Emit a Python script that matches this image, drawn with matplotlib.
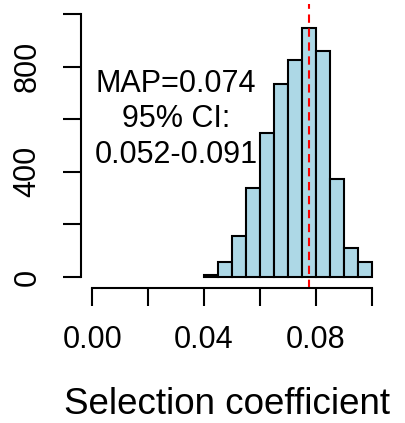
import matplotlib
matplotlib.use('Agg')
import matplotlib.pyplot as plt

# histogram of selection coefficient samples (bin edges and counts)
binEdges = [0.040, 0.045, 0.050, 0.055, 0.060, 0.065, 0.070, 0.075, 0.080, 0.085, 0.090, 0.095, 0.100]
counts = [8, 57, 156, 337, 546, 734, 824, 945, 860, 373, 110, 58]
mapLine = 0.0775
xTicks = [0.00, 0.02, 0.04, 0.06, 0.08, 0.10]
xTickLabels = ['0.00', '', '0.04', '', '0.08', '']
yTicks = [0, 200, 400, 600, 800, 1000]
yTickLabels = ['0', '', '400', '', '800', '']
annot = 'MAP=0.074\n95% CI:\n0.052-0.091'

plt.rcParams['font.family'] = ['Liberation Sans', 'DejaVu Sans']

fig = plt.figure(figsize=(4.05, 4.23), dpi=100)
ax = fig.add_axes([0.2, 0.3203, 0.7457, 0.6714])

widths = [binEdges[i+1]-binEdges[i] for i in range(len(counts))]
ax.bar(binEdges[:-1], counts, width=widths, align='edge',
       color='#ADD8E6', edgecolor='black', linewidth=1.5)
ax.axvline(mapLine, color='red', linestyle=(0, (4, 2.7)), linewidth=1.5)

ax.text(0.03, 600, annot, ha='center', va='center', fontsize=22, linespacing=1.23)

ax.set_xlim(-0.004, 0.104)
ax.set_ylim(-40, 1040)
ax.set_xticks(xTicks)
ax.set_xticklabels(xTickLabels)
ax.set_yticks(yTicks)
ax.set_yticklabels(yTickLabels, rotation=90, va='center')
for s in ['top', 'right']:
    ax.spines[s].set_visible(False)
ax.spines['left'].set_bounds(0, 1000)
ax.spines['bottom'].set_bounds(0, 0.1)
for s in ['left', 'bottom']:
    ax.spines[s].set_linewidth(1.5)
ax.tick_params(axis='both', length=12.7, width=1.5, labelsize=22)
ax.tick_params(axis='x', pad=14)
ax.tick_params(axis='y', pad=15)
ax.set_xlabel('Selection coefficient', fontsize=26.5)
ax.xaxis.set_label_coords(0.483, -0.35)

fig.savefig('out.png', dpi=100)
